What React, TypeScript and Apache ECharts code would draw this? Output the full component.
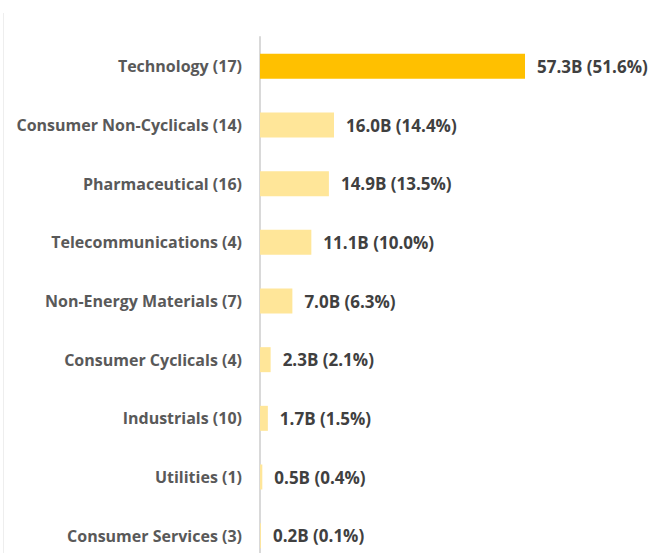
import React, { useEffect, useRef } from "react";
import * as echarts from "echarts";

const categories = [
  "Technology (17)",
  "Consumer Non-Cyclicals (14)",
  "Pharmaceutical (16)",
  "Telecommunications (4)",
  "Non-Energy Materials (7)",
  "Consumer Cyclicals (4)",
  "Industrials (10)",
  "Utilities (1)",
  "Consumer Services (3)",
];
const values = [57.3, 16.0, 14.9, 11.1, 7.0, 2.3, 1.7, 0.5, 0.2];
const shares = ["51.6%", "14.4%", "13.5%", "10.0%", "6.3%", "2.1%", "1.5%", "0.4%", "0.1%"];

export default function App() {
  const ref = useRef<HTMLDivElement>(null);
  useEffect(() => {
    const chart = echarts.init(ref.current!, null, { renderer: "svg" });
    const font = "Open Sans";
    chart.setOption({
      animation: false,
      grid: { left: 260, top: 37, width: 370, height: 528, containLabel: false },
      xAxis: { type: "value", min: 0, max: 80, show: false },
      yAxis: {
        type: "category",
        data: categories,
        inverse: true,
        axisLine: { show: true, lineStyle: { color: "#d9d9d9", width: 2 } },
        axisTick: { show: false },
        axisLabel: {
          color: "#595959",
          fontWeight: 700,
          fontSize: 16,
          fontFamily: font,
          margin: 18,
        },
      },
      graphic: [
        {
          type: "line",
          shape: { x1: 3.5, y1: 13, x2: 3.5, y2: 580 },
          style: { stroke: "#eeeeee", lineWidth: 1 },
        },
      ],
      series: [
        {
          type: "bar",
          barWidth: 25,
          data: values.map((v, i) => ({
            value: v,
            itemStyle: { color: i === 0 ? "#FFC000" : "#FFE699" },
          })),
          label: {
            show: true,
            position: "right",
            distance: 12,
            color: "#404040",
            fontWeight: 700,
            fontSize: 17,
            fontFamily: font,
            formatter: (p: any) => `${values[p.dataIndex].toFixed(1)}B (${shares[p.dataIndex]})`,
          },
        },
      ],
    });
    return () => chart.dispose();
  }, []);
  return (
    <div style={{ position: "absolute", left: 0, top: 0, width: 653, height: 553, overflow: "hidden" }}>
      <div ref={ref} style={{ width: 653, height: 580 }} />
    </div>
  );
}
